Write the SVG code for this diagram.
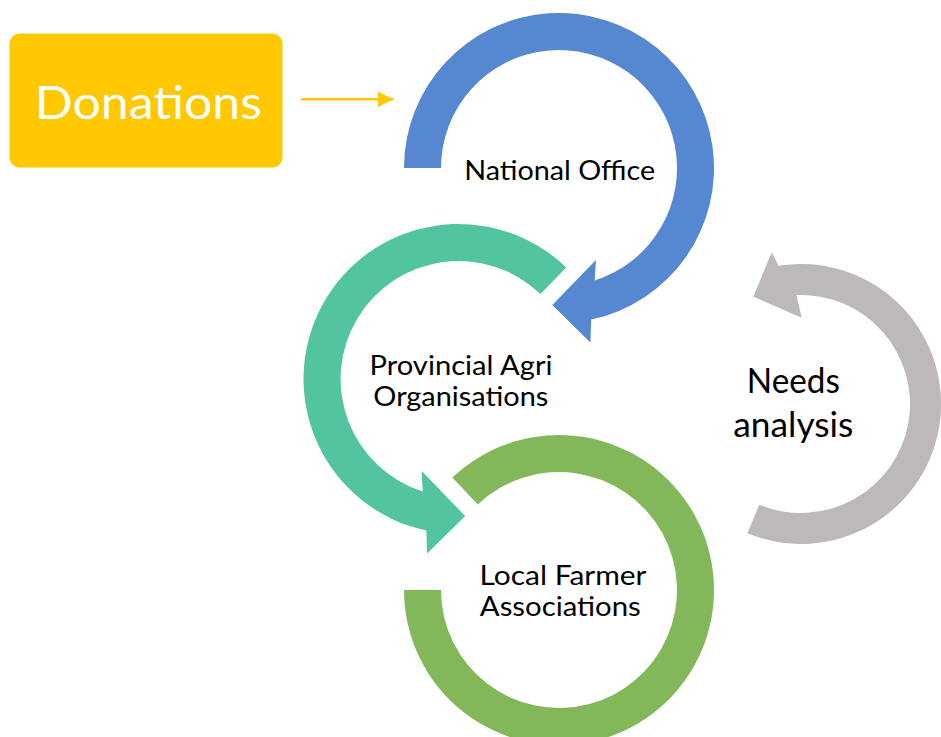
<svg xmlns="http://www.w3.org/2000/svg" width="941" height="737" viewBox="0 0 941 737">
  <defs>
    <style>
      .lbl { font-family: Lato, "Liberation Sans", sans-serif; font-size: 26px; fill: #000; text-anchor: middle; }
      .big { font-size: 34px; }
      .don { font-family: Lato, "Liberation Sans", sans-serif; font-size: 46px; fill: #fff; text-anchor: middle; }
    </style>
    <marker id="ah" viewBox="0 0 10 10" refX="10" refY="5" markerWidth="6" markerHeight="6" markerUnits="strokeWidth" orient="auto">
      <path d="M0,0 L10,5 L0,10 Z" fill="#FFC800"/>
    </marker>
  </defs>
  <rect width="941" height="737" fill="#fff"/>

  <g id="donations">
    <rect x="9.5" y="33.5" width="273" height="134" rx="10" fill="#FFC800"/>
    <text class="don" x="148.3" y="119.3" textLength="227" lengthAdjust="spacingAndGlyphs">Donations</text>
  </g>

  <g id="connectors">
    <line x1="301" y1="99.3" x2="393.5" y2="99.3" stroke="#FFC800" stroke-width="2.6" marker-end="url(#ah)"/>
  </g>

  <g id="national-office">
    <path d="M404,168 A155,155 0 1 1 591.2,319.6 L590.4,342.5 L552.3,305 L595.9,260 L594.7,280.5 A118,118 0 1 0 441,168 Z" fill="#5588D0"/>
    <text class="lbl" x="559.7" y="180" textLength="191" lengthAdjust="spacingAndGlyphs">National Office</text>
  </g>

  <g id="provincial">
    <path d="M566.2,267.5 A155,155 0 1 0 426.3,530.6 L427.1,553.5 L465.2,516 L421.6,471 L422.8,491.5 A118,118 0 1 1 540.5,294.1 Z" fill="#52C5A0"/>
    <text class="lbl" x="461" y="375" textLength="183" lengthAdjust="spacingAndGlyphs">Provincial Agri</text>
    <text class="lbl" x="460.8" y="406" textLength="175" lengthAdjust="spacingAndGlyphs">Organisations</text>
  </g>

  <g id="local-farmer">
    <path d="M404,590 A155,155 0 1 0 452.3,477.6 L477.8,504.4 A118,118 0 1 1 441,590 Z" fill="#82B85A"/>
    <text class="lbl" x="563" y="585" textLength="167" lengthAdjust="spacingAndGlyphs">Local Farmer</text>
    <text class="lbl" x="560.3" y="616" textLength="161" lengthAdjust="spacingAndGlyphs">Associations</text>
  </g>

  <g id="needs-analysis">
    <path d="M747.4,533.3 A140,140 0 1 0 778.6,265.8 L771.7,252.3 L753.3,296.7 L801.7,317.7 L796.4,295.1 A109,109 0 1 1 759.3,504.7 Z" fill="#BCB9B8"/>
    <text class="lbl big" x="793.3" y="393" textLength="93" lengthAdjust="spacingAndGlyphs">Needs</text>
    <text class="lbl big" x="793.3" y="437" textLength="120" lengthAdjust="spacingAndGlyphs">analysis</text>
  </g>
</svg>
